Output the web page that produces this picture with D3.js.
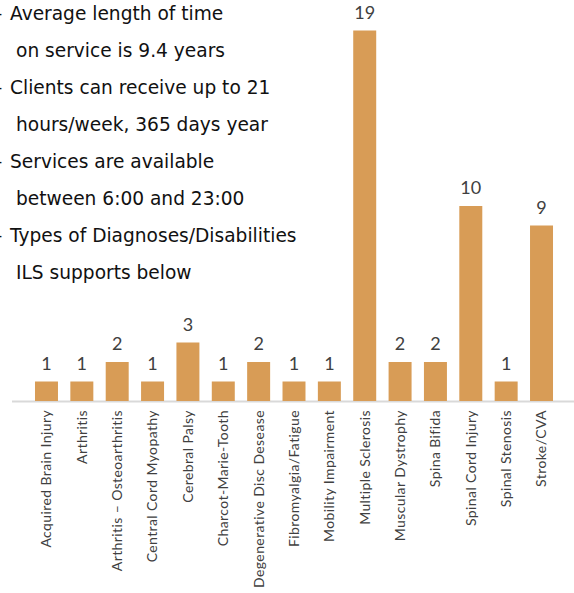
<!DOCTYPE html>
<html>
<head>
<meta charset="utf-8">
<script src="https://cdn.jsdelivr.net/npm/d3@7"></script>
<style>
  html, body { margin: 0; padding: 0; background: #fff; }
  svg { display: block; }
</style>
</head>
<body>
<svg id="chart" width="574" height="593"></svg>
<script>
// Diagnoses / disabilities supported, with client counts
const categories = [
  "Acquired Brain Injury", "Arthritis", "Arthritis – Osteoarthritis",
  "Central Cord Myopathy", "Cerebral Palsy", "Charcot-Marie-Tooth",
  "Degenerative Disc Desease", "Fibromyalgia/Fatigue", "Mobility Impairment",
  "Multiple Sclerosis", "Muscular Dystrophy", "Spina Bifida",
  "Spinal Cord Injury", "Spinal Stenosis", "Stroke/CVA"
];
const counts = [1, 1, 2, 1, 3, 1, 2, 1, 1, 19, 2, 2, 10, 1, 9];

// Service notes shown at top-left; each entry is [text, isBulletStart]
const notes = [
  ["Average length of time", true],
  ["on service is 9.4 years", false],
  ["Clients can receive up to 21", true],
  ["hours/week, 365 days year", false],
  ["Services are available", true],
  ["between 6:00 and 23:00", false],
  ["Types of Diagnoses/Disabilities", true],
  ["ILS supports below", false]
];

const svg = d3.select("#chart");
const barColor = "#d89c56";
const textColor = "#404040";

const x = d3.scaleBand()
  .domain(categories)
  .range([28.8, 559.2])
  .paddingInner(0.35)
  .paddingOuter(0.175);

const y = d3.scaleLinear()
  .domain([0, 20])
  .range([401, 11]);

// Baseline
svg.append("line")
  .attr("x1", 12).attr("x2", 574)
  .attr("y1", 401.5).attr("y2", 401.5)
  .attr("stroke", "#d9d9d9")
  .attr("stroke-width", 2);

// Bars
svg.append("g").selectAll("rect")
  .data(counts)
  .join("rect")
  .attr("x", (d, i) => x(categories[i]))
  .attr("width", x.bandwidth())
  .attr("y", d => y(d))
  .attr("height", d => y(0) - y(d))
  .attr("fill", barColor);

// Value labels
svg.append("g").selectAll("text")
  .data(counts)
  .join("text")
  .attr("x", (d, i) => x(categories[i]) + x.bandwidth() / 2)
  .attr("y", d => y(d) - 12)
  .attr("text-anchor", "middle")
  .attr("font-family", "Lato, 'Noto Sans', sans-serif")
  .attr("font-size", 18)
  .attr("fill", textColor)
  .text(d => d);

// Category labels, rotated
svg.append("g").selectAll("text")
  .data(categories)
  .join("text")
  .attr("transform", d => `translate(${x(d) + x.bandwidth() / 2},410) rotate(-90)`)
  .attr("dy", "0.35em")
  .attr("text-anchor", "end")
  .attr("font-family", "Lato, 'Noto Sans', sans-serif")
  .attr("font-size", 14)
  .attr("letter-spacing", 0.4)
  .attr("fill", textColor)
  .text(d => d);

// Notes block
const noteG = svg.append("g")
  .attr("font-family", "'DejaVu Sans', sans-serif")
  .attr("font-size", 18.6)
  .attr("fill", "#111");

noteG.selectAll("text.note")
  .data(notes)
  .join("text")
  .attr("class", "note")
  .attr("x", d => d[1] ? 10 : 16)
  .attr("y", (d, i) => 20 + i * 37)
  .text(d => d[0]);

// Bullet markers, running off the left edge
noteG.selectAll("text.bullet")
  .data(notes.filter(d => d[1]))
  .join("text")
  .attr("class", "bullet")
  .attr("x", -7)
  .attr("y", (d, i) => 20 + i * 2 * 37)
  .text("–");
</script>
</body>
</html>
